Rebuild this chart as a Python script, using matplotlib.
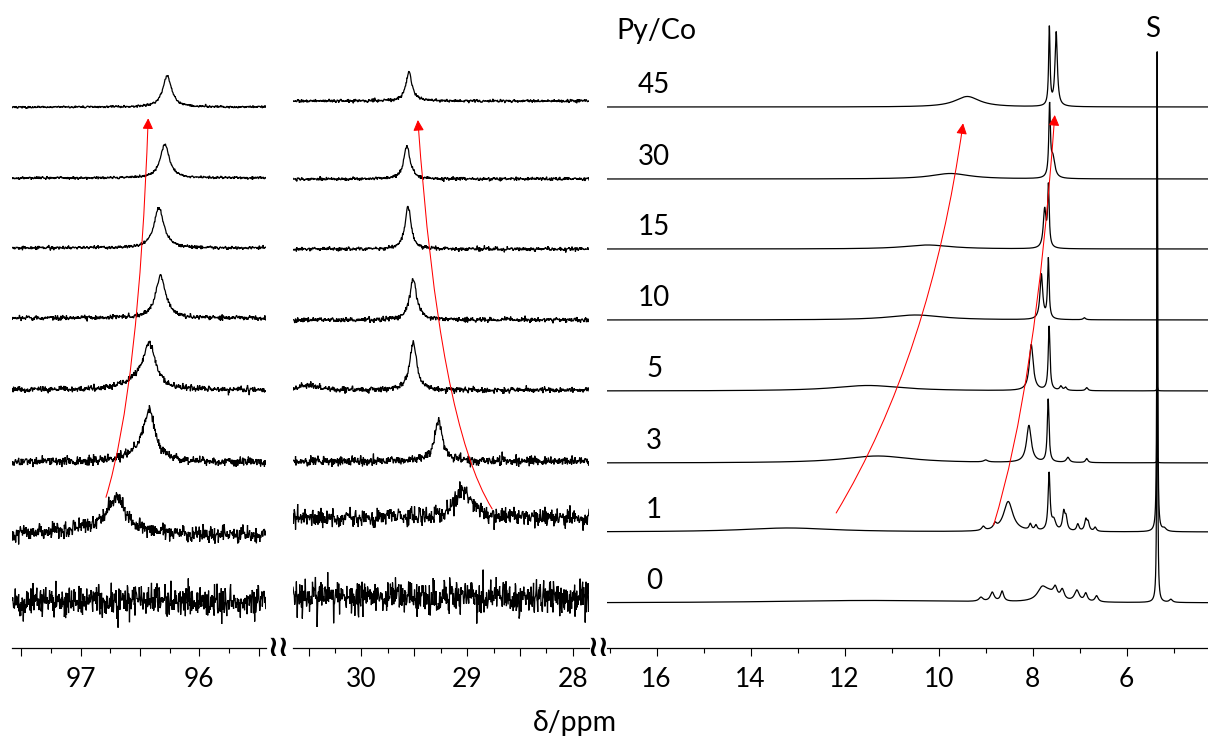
import numpy as np
import matplotlib
matplotlib.use('Agg')
import matplotlib.pyplot as plt
from matplotlib.ticker import MultipleLocator, FuncFormatter

plt.rcParams['font.family'] = ['Lato', 'DejaVu Sans']

# ---------------- data ----------------
PY_CO = ['0', '1', '3', '5', '10', '15', '30', '45']

# panel 1 (~96 ppm)
P1_RANGE = (97.575, 95.44)
P1_OFFSET = [48, 113, 186, 258, 330, 400, 470, 541]
P1_NOISE = [8.5, 4.0, 2.2, 1.6, 1.2, 0.9, 0.7, 0.6]
P1_PEAKS = [
    [],
    [(96.70, 33, 0.08), (96.85, 8, 0.30)],
    [(96.42, 46, 0.055), (96.50, 8, 0.15)],
    [(96.42, 42, 0.06), (96.52, 8, 0.15)],
    [(96.325, 43, 0.05)],
    [(96.34, 40, 0.05)],
    [(96.29, 34, 0.045)],
    [(96.27, 31, 0.045)],
]

# panel 2 (~29 ppm)
P2_RANGE = (30.648, 27.846)
P2_OFFSET = [51, 130, 187, 258, 328, 399, 469, 547]
P2_NOISE = [8.5, 4.5, 2.4, 1.6, 1.3, 1.0, 0.9, 0.8]
P2_PEAKS = [
    [],
    [(29.04, 27, 0.10)],
    [(29.27, 41, 0.045)],
    [(29.51, 48, 0.04), (30.50, 5, 0.10)],
    [(29.51, 41, 0.04)],
    [(29.56, 42, 0.035)],
    [(29.57, 33, 0.035)],
    [(29.55, 29, 0.035)],
]

# panel 3 (1H region)
P3_RANGE = (17.055, 4.27)
P3_OFFSET = [45, 116, 185, 257, 328, 399, 469, 541]
P3_PEAKS = [
    [(11.5, 2.5, 2.5), (9.10, 4, 0.05), (8.86, 9, 0.05), (8.65, 10, 0.04),
     (7.80, 12, 0.12), (7.65, 7, 0.15), (7.52, 10, 0.05), (7.37, 10, 0.05),
     (7.06, 11, 0.06), (6.87, 8, 0.04), (6.64, 6, 0.04), (5.35, 552, 0.008),
     (5.06, 3, 0.04)],
    [(13.2, 4, 1.2), (9.05, 4, 0.04), (8.80, 5, 0.04), (8.52, 30, 0.12),
     (8.05, 6, 0.03), (7.93, 5, 0.03), (7.65, 57, 0.025), (7.55, 10, 0.05),
     (7.34, 18, 0.03), (7.29, 12, 0.03), (7.04, 7, 0.03), (6.87, 11, 0.03),
     (6.82, 8, 0.03), (6.67, 4, 0.03), (5.35, 481, 0.009), (5.20, 3, 0.05)],
    [(11.3, 7, 0.9), (9.0, 2, 0.05), (8.08, 37, 0.06), (7.67, 63, 0.022),
     (7.25, 5, 0.04), (6.85, 4, 0.03), (5.35, 5, 0.01)],
    [(11.5, 5.5, 0.9), (8.03, 46, 0.05), (7.65, 64, 0.022), (7.40, 4, 0.03),
     (7.30, 3, 0.03), (6.85, 3, 0.03), (5.35, 5, 0.01)],
    [(10.49, 5, 0.7), (7.815, 45, 0.035), (7.667, 60, 0.02), (6.90, 2, 0.03)],
    [(10.24, 4, 0.6), (7.745, 38, 0.035), (7.665, 60, 0.02)],
    [(9.75, 5.5, 0.5), (7.64, 70, 0.02), (7.57, 20, 0.05)],
    [(9.39, 10.5, 0.32), (7.645, 78, 0.018), (7.50, 74, 0.03)],
]

# ---------------- figure ----------------
W, H = 1208, 736
fig = plt.figure(figsize=(W / 100, H / 100), dpi=100)
AX_BOTTOM = 648  # px from top


def add_ax(x0, x1):
    ax = fig.add_axes([x0 / W, (H - AX_BOTTOM) / H, (x1 - x0) / W, AX_BOTTOM / H])
    ax.set_facecolor('none')
    for s in ('left', 'right', 'top'):
        ax.spines[s].set_visible(False)
    ax.spines['bottom'].set_linewidth(0.9)
    ax.set_yticks([])
    ax.set_ylim(0, AX_BOTTOM)
    ax.tick_params(axis='x', which='major', direction='out', length=5.5,
                   width=0.8, pad=8, labelsize=19)
    ax.tick_params(axis='x', which='minor', direction='out', length=3.5, width=0.8)
    return ax


ax1 = add_ax(12.3, 265.7)
ax2 = add_ax(293.0, 589.0)
ax3 = add_ax(607.0, 1208.0)

int_fmt = FuncFormatter(lambda v, p: f'{int(round(v))}' if abs(v - round(v)) < 1e-6 else '')


def lorentz(x, peaks):
    y = np.zeros_like(x)
    for c, h, w in peaks:
        y += h / (1.0 + ((x - c) / w) ** 2)
    return y


rng = np.random.default_rng(7)


def draw_panel(ax, rng_ppm, offsets, peaks, noise, npts):
    x = np.linspace(rng_ppm[0], rng_ppm[1], npts)
    for off, pk, nz in zip(offsets, peaks, noise):
        y = off + lorentz(x, pk)
        if nz > 0:
            y = y + nz * rng.standard_normal(npts)
        ax.plot(x, y, color='black', lw=0.9, solid_joinstyle='miter')
    ax.set_xlim(*rng_ppm)


draw_panel(ax1, P1_RANGE, P1_OFFSET, P1_PEAKS, P1_NOISE, 600)
draw_panel(ax2, P2_RANGE, P2_OFFSET, P2_PEAKS, P2_NOISE, 700)
draw_panel(ax3, P3_RANGE, P3_OFFSET, P3_PEAKS, [0] * 8, 12000)

for ax in (ax1, ax2):
    ax.xaxis.set_major_locator(MultipleLocator(0.5))
    ax.xaxis.set_minor_locator(MultipleLocator(0.25))
    ax.xaxis.set_major_formatter(int_fmt)
ax3.xaxis.set_major_locator(MultipleLocator(2))
ax3.xaxis.set_minor_locator(MultipleLocator(1))
ax3.xaxis.set_major_formatter(int_fmt)

# Py/Co labels
ax3.text(16.0, AX_BOTTOM - 31, 'Py/Co', ha='center', va='center', fontsize=20.5)
for lab, off in zip(PY_CO, P3_OFFSET):
    ax3.text(16.05, off + 22, lab, ha='center', va='center', fontsize=20)
ax3.text(5.44, AX_BOTTOM - 29, 'S', ha='center', va='center', fontsize=20)

# red arrows (tail -> head), display-space tangent angles
arrow_kw = dict(arrowstyle='-|>', color='red', lw=0.75, mutation_scale=16,
                shrinkA=0, shrinkB=0)
ax1.annotate('', xy=(96.43, 529.7), xytext=(96.786, 150.7),
             arrowprops=dict(connectionstyle='angle3,angleA=73,angleB=88', **arrow_kw))
ax2.annotate('', xy=(29.466, 528), xytext=(28.762, 139),
             arrowprops=dict(connectionstyle='angle3,angleA=122,angleB=94', **arrow_kw))
ax3.annotate('', xy=(9.48, 524.7), xytext=(12.18, 135),
             arrowprops=dict(connectionstyle='angle3,angleA=59,angleB=82', **arrow_kw))
ax3.annotate('', xy=(7.53, 533), xytext=(8.83, 123),
             arrowprops=dict(connectionstyle='angle3,angleA=73,angleB=86', **arrow_kw))

# axis break marks
for bx in (278.3, 598.3):
    fig.text(bx / W, 1 - 647.5 / H, '≀≀', ha='center', va='center', fontsize=21,
             fontweight='bold', family='DejaVu Sans')

fig.text(575 / W, 4.5 / H, 'δ/ppm', ha='center', va='baseline', fontsize=20.5)

fig.savefig('out.png', dpi=100)
